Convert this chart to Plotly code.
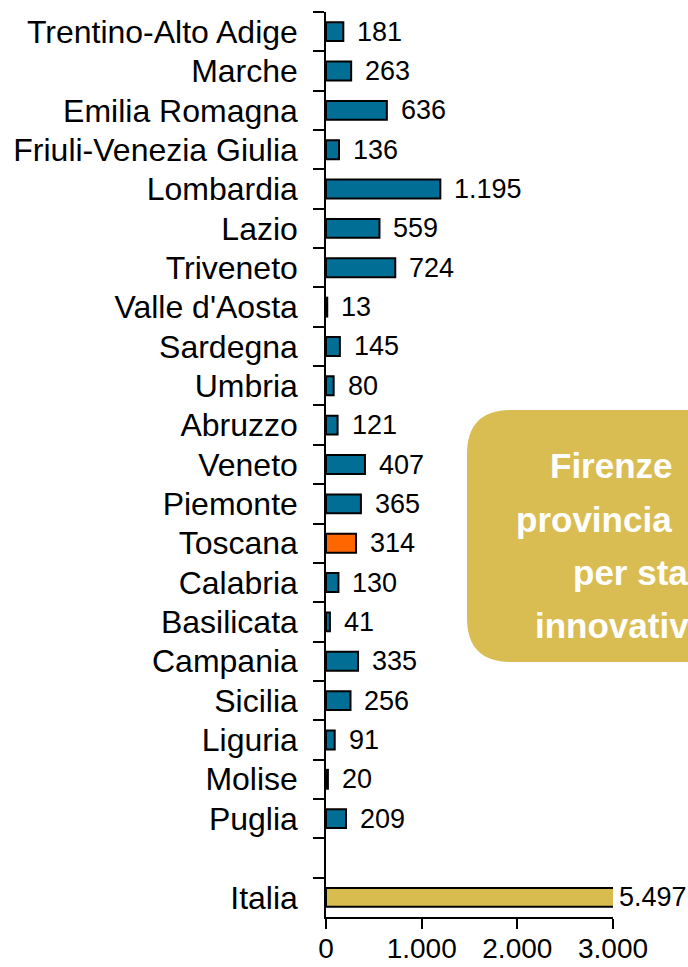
import plotly.graph_objects as go

regions = ["Trentino-Alto Adige", "Marche", "Emilia Romagna", "Friuli-Venezia Giulia",
           "Lombardia", "Lazio", "Triveneto", "Valle d'Aosta", "Sardegna", "Umbria",
           "Abruzzo", "Veneto", "Piemonte", "Toscana", "Calabria", "Basilicata",
           "Campania", "Sicilia", "Liguria", "Molise", "Puglia", " ", "Italia"]
values = [181, 263, 636, 136, 1195, 559, 724, 13, 145, 80,
          121, 407, 365, 314, 130, 41, 335, 256, 91, 20, 209, None, 5497]
x_ticks = [0, 1000, 2000, 3000]
x_tick_labels = ["0", "1.000", "2.000", "3.000"]
box_lines = ["Firenze", "provincia", "per sta", "innovativ"]

BLUE = "#006E95"
ORANGE = "#FF6600"
GOLD = "#D9BC50"
XMAX = 3000

colors = []
for r in regions:
    if r == "Toscana":
        colors.append(ORANGE)
    elif r == "Italia":
        colors.append(GOLD)
    else:
        colors.append(BLUE)

W, H = 688, 967
ML, MR, MT, MB = 326, 75, 12, 50
PW = W - ML - MR
PH = H - MT - MB

def px_to_paper(px, py):
    return (px - ML) / PW, (H - MB - py) / PH

fig = go.Figure()
fig.add_trace(go.Bar(
    y=regions, x=values, orientation="h",
    marker=dict(color=colors, line=dict(color="black", width=2)),
    width=0.48, hoverinfo="skip", showlegend=False,
))

annotations = []
for r, v in zip(regions, values):
    if v is None:
        continue
    label = f"{v:,}".replace(",", ".")
    annotations.append(dict(
        x=min(v, XMAX), y=r, xref="x", yref="y", text=label, showarrow=False,
        xanchor="left", yanchor="middle", xshift=(12 if v <= XMAX else 4),
        font=dict(family="Liberation Sans, Arial", size=27, color="black"),
    ))

# rounded box (extends past the right edge)
bx0, by0, bx1, by1, rad = 467, 410, 800, 662, 44
def P(px, py):
    a, b = px_to_paper(px, py)
    return f"{a:.5f},{b:.5f}"
path = (f"M {P(bx0 + rad, by0)} L {P(bx1 - rad, by0)} Q {P(bx1, by0)} {P(bx1, by0 + rad)} "
        f"L {P(bx1, by1 - rad)} Q {P(bx1, by1)} {P(bx1 - rad, by1)} "
        f"L {P(bx0 + rad, by1)} Q {P(bx0, by1)} {P(bx0, by1 - rad)} "
        f"L {P(bx0, by0 + rad)} Q {P(bx0, by0)} {P(bx0 + rad, by0)} Z")
fig.add_shape(type="path", path=path, xref="paper", yref="paper",
              fillcolor="#DABD52", line=dict(width=0), layer="above")

line_x = [548, 514, 571, 533]
line_y = [466, 519, 572, 625]
for t, lx, ly in zip(box_lines, line_x, line_y):
    ax, ay = px_to_paper(lx, ly)
    annotations.append(dict(
        x=ax, y=ay, xref="paper", yref="paper", text=f"<b>{t}</b>", showarrow=False,
        xanchor="left", yanchor="middle",
        font=dict(family="Liberation Sans, Arial", size=35, color="white"),
    ))

fig.update_layout(
    width=W, height=H, margin=dict(l=ML, r=MR, t=MT, b=MB, autoexpand=False),
    paper_bgcolor="white", plot_bgcolor="white",
    separators=",.",
    annotations=annotations,
    xaxis=dict(range=[0, XMAX], tickvals=x_ticks, ticktext=x_tick_labels, automargin=False,
               showgrid=False, zeroline=False, showline=True, linecolor="black", linewidth=1.5,
               ticks="outside", ticklen=10, tickcolor="black", tickwidth=1.5,
               ticklabelstandoff=-4,
               tickfont=dict(family="Liberation Sans, Arial", size=28, color="black"),
               fixedrange=True),
    yaxis=dict(type="category", categoryorder="array", categoryarray=regions, automargin=False,
               range=[len(regions) - 0.5, -0.5], tickson="boundaries",
               showgrid=False, zeroline=False, showline=True, linecolor="black", linewidth=1.5,
               ticks="outside", ticklen=11, tickcolor="black", tickwidth=1.5,
               ticklabelstandoff=20,
               tickfont=dict(family="Liberation Sans, Arial", size=32, color="black"),
               fixedrange=True),
)

fig.write_html("out.html", config={"displayModeBar": False},
               post_script="document.body.style.margin='0';document.body.style.overflow='hidden';")
